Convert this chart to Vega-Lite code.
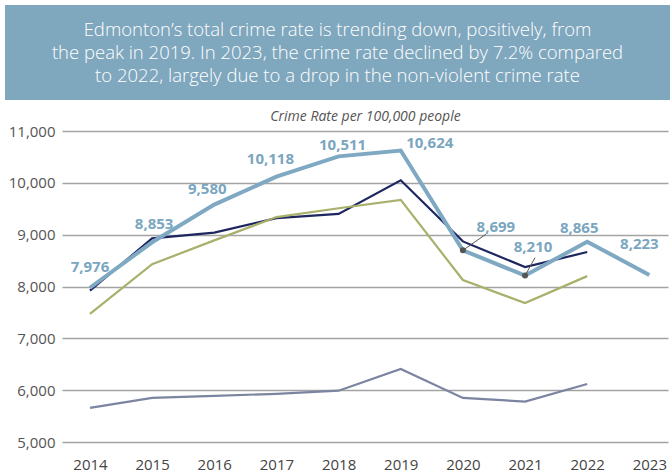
{
  "$schema": "https://vega.github.io/schema/vega-lite/v6.json",
  "padding": {"left": 5, "top": 5, "right": 0, "bottom": 0},
  "background": "white",
  "config": {"font": "Open Sans", "view": {"stroke": null}},
  "spacing": 10,
  "vconcat": [
    {
      "width": 665,
      "height": 95,
      "view": {"fill": "#7FA7BE", "stroke": null},
      "data": {"values": [{"caption": "Edmonton’s total crime rate is trending down, positively, from\nthe peak in 2019. In 2023, the crime rate declined by 7.2% compared\nto 2022, largely due to a drop in the non-violent crime rate"}]},
      "mark": {"type": "text", "lineBreak": "\n", "lineHeight": 23, "fontSize": 18.5, "fontWeight": 300, "color": "white", "align": "center", "baseline": "middle", "dy": -23},
      "encoding": {"text": {"field": "caption"}}
    },
    {
      "width": 665,
      "height": 311,
      "title": {"text": "Crime Rate per 100,000 people", "fontStyle": "italic", "fontWeight": "normal", "fontSize": 14, "color": "#555555", "offset": 0, "anchor": "middle", "dx": 28},
      "data": {"values": [
        {"year": 2014, "series": "Edmonton", "value": 7976},
        {"year": 2015, "series": "Edmonton", "value": 8853},
        {"year": 2016, "series": "Edmonton", "value": 9580},
        {"year": 2017, "series": "Edmonton", "value": 10118},
        {"year": 2018, "series": "Edmonton", "value": 10511},
        {"year": 2019, "series": "Edmonton", "value": 10624},
        {"year": 2020, "series": "Edmonton", "value": 8699},
        {"year": 2021, "series": "Edmonton", "value": 8210},
        {"year": 2022, "series": "Edmonton", "value": 8865},
        {"year": 2023, "series": "Edmonton", "value": 8223},
        {"year": 2014, "series": "Comparator A", "value": 7920},
        {"year": 2015, "series": "Comparator A", "value": 8930},
        {"year": 2016, "series": "Comparator A", "value": 9040},
        {"year": 2017, "series": "Comparator A", "value": 9320},
        {"year": 2018, "series": "Comparator A", "value": 9400},
        {"year": 2019, "series": "Comparator A", "value": 10050},
        {"year": 2020, "series": "Comparator A", "value": 8870},
        {"year": 2021, "series": "Comparator A", "value": 8375},
        {"year": 2022, "series": "Comparator A", "value": 8665},
        {"year": 2014, "series": "Comparator B", "value": 7470},
        {"year": 2015, "series": "Comparator B", "value": 8430},
        {"year": 2016, "series": "Comparator B", "value": 8890},
        {"year": 2017, "series": "Comparator B", "value": 9340},
        {"year": 2018, "series": "Comparator B", "value": 9510},
        {"year": 2019, "series": "Comparator B", "value": 9670},
        {"year": 2020, "series": "Comparator B", "value": 8125},
        {"year": 2021, "series": "Comparator B", "value": 7680},
        {"year": 2022, "series": "Comparator B", "value": 8200},
        {"year": 2014, "series": "Comparator C", "value": 5660},
        {"year": 2015, "series": "Comparator C", "value": 5850},
        {"year": 2016, "series": "Comparator C", "value": 5890},
        {"year": 2017, "series": "Comparator C", "value": 5930},
        {"year": 2018, "series": "Comparator C", "value": 5990},
        {"year": 2019, "series": "Comparator C", "value": 6410},
        {"year": 2020, "series": "Comparator C", "value": 5850},
        {"year": 2021, "series": "Comparator C", "value": 5780},
        {"year": 2022, "series": "Comparator C", "value": 6120}
      ]},
      "encoding": {
        "x": {"field": "year", "type": "quantitative",
          "scale": {"domain": [2013.55, 2023.3], "nice": false, "zero": false, "range": [57, 663]},
          "axis": {"values": [2014, 2015, 2016, 2017, 2018, 2019, 2020, 2021, 2022, 2023], "format": "d", "grid": false, "domain": false, "ticks": false, "labelPadding": 15, "labelFontSize": 15, "labelColor": "#444444", "labelFlush": false, "labelOverlap": false, "title": null}},
        "y": {"field": "value", "type": "quantitative",
          "scale": {"domain": [5000, 11000], "nice": false, "zero": false},
          "axis": {"values": [5000, 6000, 7000, 8000, 9000, 10000, 11000], "format": ",d", "domain": false, "ticks": false, "gridColor": "#a3a3a3", "gridWidth": 1.5, "labelPadding": -50, "labelAlign": "right", "labelFontSize": 15, "labelColor": "#555555", "title": null}}
      },
      "layer": [
        {"transform": [{"filter": "datum.series !== 'Edmonton'"}],
         "mark": {"type": "line", "strokeWidth": 2.2},
         "encoding": {"color": {"field": "series", "type": "nominal", "scale": {"domain": ["Comparator A", "Comparator B", "Comparator C"], "range": ["#1E2660", "#A9B06B", "#7B84A0"]}, "legend": null}}},
        {"transform": [{"filter": "datum.series === 'Edmonton'"}],
         "mark": {"type": "line", "strokeWidth": 4, "color": "#7FA9C2"}},
        {"transform": [{"filter": "datum.series === 'Edmonton' && datum.year == 2020"}],
         "mark": {"type": "rule", "x2Offset": 23, "y2Offset": -16, "color": "#555555", "strokeWidth": 1},
         "encoding": {"x2": {"field": "year"}, "y2": {"field": "value"}}},
        {"transform": [{"filter": "datum.series === 'Edmonton' && datum.year == 2021"}],
         "mark": {"type": "rule", "x2Offset": 10, "y2Offset": -18, "color": "#555555", "strokeWidth": 1},
         "encoding": {"x2": {"field": "year"}, "y2": {"field": "value"}}},
        {"transform": [{"filter": "datum.series === 'Edmonton' && (datum.year == 2020 || datum.year == 2021)"}],
         "mark": {"type": "circle", "size": 36, "color": "#555555", "opacity": 1}},
        {"transform": [{"filter": "datum.series === 'Edmonton' && datum.year == 2014"}],
         "mark": {"type": "text", "dx": 0, "dy": -21, "fontSize": 15, "letterSpacing": 0.3, "fontWeight": "bold", "color": "#7AA6C0"},
         "encoding": {"text": {"field": "value", "format": ",d"}}},
        {"transform": [{"filter": "datum.series === 'Edmonton' && datum.year == 2015"}],
         "mark": {"type": "text", "dx": 2, "dy": -18, "fontSize": 15, "letterSpacing": 0.3, "fontWeight": "bold", "color": "#7AA6C0"},
         "encoding": {"text": {"field": "value", "format": ",d"}}},
        {"transform": [{"filter": "datum.series === 'Edmonton' && datum.year == 2016"}],
         "mark": {"type": "text", "dx": -7, "dy": -16, "fontSize": 15, "letterSpacing": 0.3, "fontWeight": "bold", "color": "#7AA6C0"},
         "encoding": {"text": {"field": "value", "format": ",d"}}},
        {"transform": [{"filter": "datum.series === 'Edmonton' && datum.year == 2017"}],
         "mark": {"type": "text", "dx": -6, "dy": -18, "fontSize": 15, "letterSpacing": 0.3, "fontWeight": "bold", "color": "#7AA6C0"},
         "encoding": {"text": {"field": "value", "format": ",d"}}},
        {"transform": [{"filter": "datum.series === 'Edmonton' && datum.year == 2018"}],
         "mark": {"type": "text", "dx": 4, "dy": -11, "fontSize": 15, "letterSpacing": 0.3, "fontWeight": "bold", "color": "#7AA6C0"},
         "encoding": {"text": {"field": "value", "format": ",d"}}},
        {"transform": [{"filter": "datum.series === 'Edmonton' && datum.year == 2019"}],
         "mark": {"type": "text", "dx": 29, "dy": -7, "fontSize": 15, "letterSpacing": 0.3, "fontWeight": "bold", "color": "#7AA6C0"},
         "encoding": {"text": {"field": "value", "format": ",d"}}},
        {"transform": [{"filter": "datum.series === 'Edmonton' && datum.year == 2020"}],
         "mark": {"type": "text", "dx": 33, "dy": -23, "fontSize": 15, "letterSpacing": 0.3, "fontWeight": "bold", "color": "#7AA6C0"},
         "encoding": {"text": {"field": "value", "format": ",d"}}},
        {"transform": [{"filter": "datum.series === 'Edmonton' && datum.year == 2021"}],
         "mark": {"type": "text", "dx": 8, "dy": -29, "fontSize": 15, "letterSpacing": 0.3, "fontWeight": "bold", "color": "#7AA6C0"},
         "encoding": {"text": {"field": "value", "format": ",d"}}},
        {"transform": [{"filter": "datum.series === 'Edmonton' && datum.year == 2022"}],
         "mark": {"type": "text", "dx": -8, "dy": -14, "fontSize": 15, "letterSpacing": 0.3, "fontWeight": "bold", "color": "#7AA6C0"},
         "encoding": {"text": {"field": "value", "format": ",d"}}},
        {"transform": [{"filter": "datum.series === 'Edmonton' && datum.year == 2023"}],
         "mark": {"type": "text", "dx": -10, "dy": -31, "fontSize": 15, "letterSpacing": 0.3, "fontWeight": "bold", "color": "#7AA6C0"},
         "encoding": {"text": {"field": "value", "format": ",d"}}}
      ]
    }
  ]
}
